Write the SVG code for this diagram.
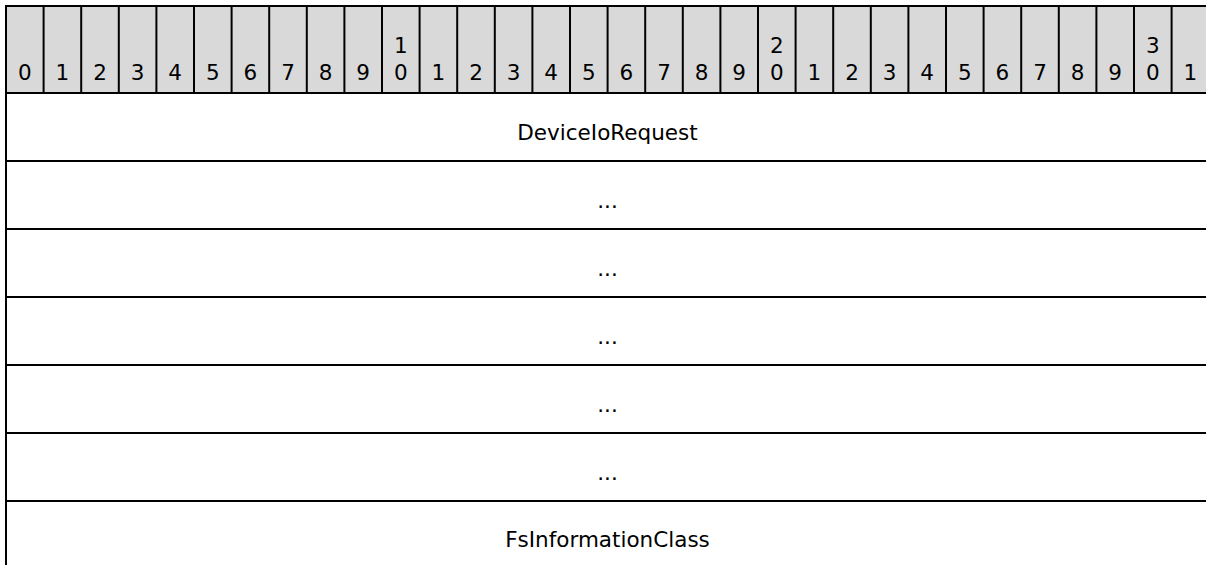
<svg xmlns="http://www.w3.org/2000/svg" width="1206" height="565" viewBox="0 0 1206 565">
<style>
text{font-family:"DejaVu Sans",Verdana,sans-serif;font-size:21.5px;fill:#000;text-anchor:middle}
.ln{stroke:#000;stroke-width:2;fill:none}
</style>
<rect x="0" y="0" width="1206" height="565" fill="#fff"/>
<g id="header">
<rect x="6" y="6" width="1203" height="87" fill="#d9d9d9"/>
<g class="ln">
<path d="M43.6 6V93M81.2 6V93M118.8 6V93M156.4 6V93M194 6V93M231.6 6V93M269.2 6V93M306.8 6V93M344.4 6V93M382 6V93M419.6 6V93M457.2 6V93M494.8 6V93M532.4 6V93M570 6V93M607.6 6V93M645.2 6V93M682.8 6V93M720.4 6V93M758 6V93M795.6 6V93M833.2 6V93M870.8 6V93M908.4 6V93M946 6V93M983.6 6V93M1021.2 6V93M1058.8 6V93M1096.4 6V93M1134 6V93M1171.6 6V93"/>
</g>
<text x="24.8" y="79.5">0</text>
<text x="62.4" y="79.5">1</text>
<text x="100" y="79.5">2</text>
<text x="137.6" y="79.5">3</text>
<text x="175.2" y="79.5">4</text>
<text x="212.8" y="79.5">5</text>
<text x="250.4" y="79.5">6</text>
<text x="288" y="79.5">7</text>
<text x="325.6" y="79.5">8</text>
<text x="363.2" y="79.5">9</text>
<text x="400.8" y="52.5">1</text><text x="400.8" y="79.5">0</text>
<text x="438.4" y="79.5">1</text>
<text x="476" y="79.5">2</text>
<text x="513.6" y="79.5">3</text>
<text x="551.2" y="79.5">4</text>
<text x="588.8" y="79.5">5</text>
<text x="626.4" y="79.5">6</text>
<text x="664" y="79.5">7</text>
<text x="701.6" y="79.5">8</text>
<text x="739.2" y="79.5">9</text>
<text x="776.8" y="52.5">2</text><text x="776.8" y="79.5">0</text>
<text x="814.4" y="79.5">1</text>
<text x="852" y="79.5">2</text>
<text x="889.6" y="79.5">3</text>
<text x="927.2" y="79.5">4</text>
<text x="964.8" y="79.5">5</text>
<text x="1002.4" y="79.5">6</text>
<text x="1040" y="79.5">7</text>
<text x="1077.6" y="79.5">8</text>
<text x="1115.2" y="79.5">9</text>
<text x="1152.8" y="52.5">3</text><text x="1152.8" y="79.5">0</text>
<text x="1190.4" y="79.5">1</text>
</g>
<g id="grid" class="ln">
<path d="M5 6H1206M6 5V565M6 93H1206M6 161H1206M6 229H1206M6 297H1206M6 365H1206M6 433H1206M6 501H1206"/>
</g>
<g id="field-DeviceIoRequest"><text x="607.5" y="139.5">DeviceIoRequest</text></g>
<g id="field-1"><text x="607.5" y="207.5">...</text></g>
<g id="field-2"><text x="607.5" y="275.5">...</text></g>
<g id="field-3"><text x="607.5" y="343.5">...</text></g>
<g id="field-4"><text x="607.5" y="411.5">...</text></g>
<g id="field-5"><text x="607.5" y="479.5">...</text></g>
<g id="field-FsInformationClass"><text x="607.5" y="547">FsInformationClass</text></g>
</svg>
